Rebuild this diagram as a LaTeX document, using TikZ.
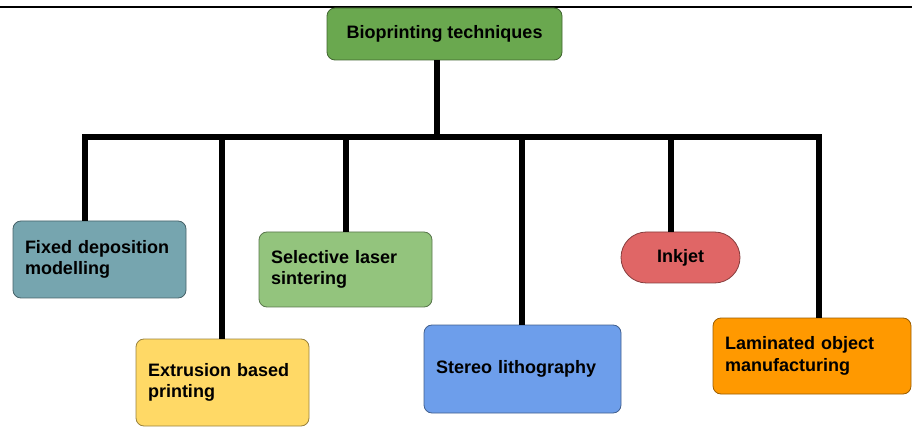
\documentclass[tikz,border=0pt]{standalone}
\usepackage{fontspec}
\setmainfont{Liberation Sans}
\usetikzlibrary{shapes.misc}
\definecolor{rootGreen}{HTML}{6AA84F}
\definecolor{fdmTeal}{HTML}{76A5AF}
\definecolor{ebpYellow}{HTML}{FFD966}
\definecolor{slsGreen}{HTML}{93C47D}
\definecolor{slaBlue}{HTML}{6D9EEB}
\definecolor{inkRed}{HTML}{E06666}
\definecolor{lomOrange}{HTML}{FF9900}

\begin{document}
\begin{tikzpicture}
[x=1pt,y=-1pt,
  labelFont/.style={font=\bfseries\fontsize{18}{21.5}\selectfont},%
  boxDecorate/.style={shape=rectangle,rounded corners=8pt,fill=#1,draw=#1!60!black,
    line width=0.8pt,inner xsep=12pt,inner ysep=0pt,align=left,labelFont},%
  pillDecorate/.style={shape=rounded rectangle,fill=#1,draw=#1!60!black,
    line width=0.8pt,inner sep=0pt,labelFont},%
  stemDecorate/.style={-,line width=6.5pt}]
\useasboundingbox (0,0) rectangle (912,427);
\draw[line width=1.6pt] (0,7) -- (912,7);
%% nodes or vertices
\node (root) at (444.5,34) [boxDecorate=rootGreen,align=center,
  minimum width=235,minimum height=52] {Bioprinting techniques};
\foreach \nodename/\x/\y/\w/\tw/\h/\col/\txt in {
  fdm/99.5/259.5/173/149pt/77/fdmTeal/{Fixed deposition\\modelling},
  ebp/222.5/382.5/173/149pt/87/ebpYellow/{Extrusion based\\printing},
  sls/345.5/269.5/173/149pt/75/slsGreen/{Selective laser\\sintering},
  sla/522.5/369/197/173pt/88/slaBlue/{Stereo lithography},
  lom/812/356/198/174pt/76/lomOrange/{Laminated object\\manufacturing}}
{
  \node (\nodename) at (\x,\y) [boxDecorate=\col,text width=\tw,
    minimum width=\w,minimum height=\h] {\txt};
}
\node (ink) at (680.5,257.5) [pillDecorate=inkRed,
  minimum width=119,minimum height=51] {Inkjet};
%% junctions on the bar
\coordinate (hub) at (437,137);
\foreach \nodename/\x in {fdm/85, ebp/222, sls/346, sla/522, ink/671, lom/819}
{
  \coordinate (j\nodename) at (\x,137);
}
%% edges or lines
\draw[stemDecorate] (root.south -| hub) -- (hub);
\draw[stemDecorate] (fdm.north -| jfdm) -- (jfdm) -- (jlom) -- (lom.north -| jlom);
\path
\foreach \nodename in {ebp, sls, sla, ink}
{
  (j\nodename) edge[stemDecorate] (j\nodename |- \nodename.north)
};
\end{tikzpicture}
\end{document}
